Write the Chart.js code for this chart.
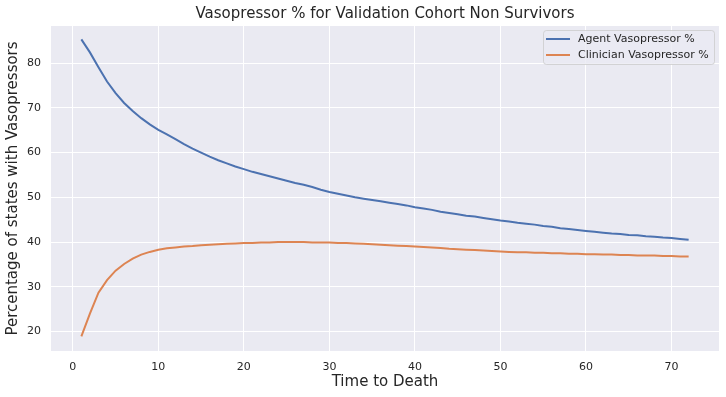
<!DOCTYPE html>
<html>
<head>
<meta charset="utf-8">
<script src="https://cdn.jsdelivr.net/npm/chart.js@4"></script>
<style>
  html, body { margin: 0; padding: 0; background: #fff; }
  #wrap { width: 726px; height: 397px; }
</style>
</head>
<body>
<div id="wrap"><canvas id="chart" width="726" height="397"></canvas></div>
<script>
// time to death (hours)
const hours = [1,2,3,4,5,6,7,8,9,10,11,12,13,14,15,16,17,18,19,20,21,22,23,24,
  25,26,27,28,29,30,31,32,33,34,35,36,37,38,39,40,41,42,43,44,45,46,47,48,
  49,50,51,52,53,54,55,56,57,58,59,60,61,62,63,64,65,66,67,68,69,70,71,72];

const agentPct = [85.3,82.4,79.1,75.9,73.3,71.1,69.3,67.7,66.3,65.1,64.1,63.0,61.9,60.9,60.0,59.1,58.3,57.6,56.9,56.3,55.7,55.2,54.7,54.2,
  53.7,53.2,52.8,52.3,51.7,51.2,50.8,50.4,50.0,49.7,49.4,49.1,48.8,48.5,48.2,47.8,47.5,47.2,46.8,46.5,46.2,45.9,45.7,45.4,
  45.1,44.8,44.6,44.3,44.1,43.9,43.6,43.4,43.1,42.9,42.7,42.5,42.3,42.1,41.9,41.8,41.6,41.5,41.3,41.2,41.0,40.9,40.7,40.5];

const clinicianPct = [18.9,24.0,28.7,31.5,33.6,35.1,36.3,37.2,37.8,38.3,38.6,38.8,39.0,39.1,39.3,39.4,39.5,39.6,39.7,39.8,39.8,39.9,39.9,40.0,
  40.0,40.0,40.0,39.9,39.9,39.9,39.8,39.8,39.7,39.6,39.5,39.4,39.3,39.2,39.1,39.0,38.9,38.8,38.7,38.5,38.4,38.3,38.2,38.1,
  38.0,37.9,37.8,37.7,37.7,37.6,37.6,37.5,37.5,37.4,37.4,37.3,37.3,37.2,37.2,37.1,37.1,37.0,37.0,37.0,36.9,36.9,36.8,36.8];

const xTicks = [0,10,20,30,40,50,60,70];
const yTicks = [20,30,40,50,60,70,80];
const seriesNames = ['Agent Vasopressor %', 'Clinician Vasopressor %'];
const titleText = 'Vasopressor % for Validation Cohort Non Survivors';

const FONT = "'DejaVu Sans', sans-serif";
const TXT = '#262626';
const colors = ['#4C72B0', '#DD8452'];

const toPts = ys => hours.map((h,i)=>({x:h, y:ys[i]}));

// plot background + title + legend drawn around the chart area
const seabornBits = {
  id: 'seabornBits',
  beforeDraw(chart) {
    const {ctx, chartArea:a} = chart;
    ctx.save();
    ctx.fillStyle = '#EAEAF2';
    ctx.fillRect(a.left, a.top, a.right-a.left, a.bottom-a.top);
    ctx.restore();
  },
  afterDraw(chart) {
    const {ctx, chartArea:a} = chart;
    ctx.save();
    // title
    ctx.fillStyle = TXT;
    ctx.font = `15px ${FONT}`;
    ctx.textAlign = 'center';
    ctx.textBaseline = 'middle';
    ctx.fillText(titleText, (a.left+a.right)/2, 14);
    // legend
    const bx = 543.5, by = 30.5, bw = 171, bh = 34;
    ctx.beginPath();
    ctx.roundRect(bx, by, bw, bh, 3);
    ctx.fillStyle = 'rgba(234,234,242,0.8)';
    ctx.fill();
    ctx.strokeStyle = 'rgba(204,204,204,0.8)';
    ctx.lineWidth = 1;
    ctx.stroke();
    ctx.font = `11px ${FONT}`;
    ctx.textAlign = 'left';
    chart.data.datasets.forEach((ds,i)=>{
      const y = 39 + i*16;
      ctx.strokeStyle = ds.borderColor;
      ctx.lineWidth = 2;
      ctx.beginPath();
      ctx.moveTo(546, y); ctx.lineTo(570, y);
      ctx.stroke();
      ctx.fillStyle = TXT;
      ctx.fillText(ds.label, 578, y);
    });
    ctx.restore();
  }
};

new Chart(document.getElementById('chart'), {
  type: 'line',
  data: {
    datasets: [
      { label: seriesNames[0], data: toPts(agentPct), borderColor: colors[0], borderWidth: 2, pointRadius: 0, tension: 0 },
      { label: seriesNames[1], data: toPts(clinicianPct), borderColor: colors[1], borderWidth: 2, pointRadius: 0, tension: 0 }
    ]
  },
  options: {
    responsive: false,
    animation: false,
    layout: { padding: { top: 26, right: 7, left: 0, bottom: 0 } },
    plugins: { legend: { display: false }, title: { display: false }, tooltip: { enabled: false } },
    scales: {
      x: {
        type: 'linear', min: -2.55, max: 75.55,
        afterBuildTicks: s => { s.ticks = xTicks.map(v=>({value:v})); },
        afterFit: s => { s.height = 46; },
        grid: { color: '#ffffff', lineWidth: 1, drawTicks: false },
        border: { display: false },
        ticks: { color: TXT, font: { family: FONT, size: 11 }, padding: 10 },
        title: { display: true, text: 'Time to Death', color: TXT, font: { family: FONT, size: 15 }, padding: { top: 0, bottom: 6 } }
      },
      y: {
        min: 15.65, max: 88.3,
        afterBuildTicks: s => { s.ticks = yTicks.map(v=>({value:v})); },
        afterFit: s => { s.width = 51; },
        grid: { color: '#ffffff', lineWidth: 1, drawTicks: false },
        border: { display: false },
        ticks: { color: TXT, font: { family: FONT, size: 11 }, padding: 10 },
        title: { display: true, text: 'Percentage of states with Vasopressors', color: TXT, font: { family: FONT, size: 15 }, padding: { top: 4, bottom: 0 } }
      }
    }
  },
  plugins: [seabornBits]
});
</script>
</body>
</html>
